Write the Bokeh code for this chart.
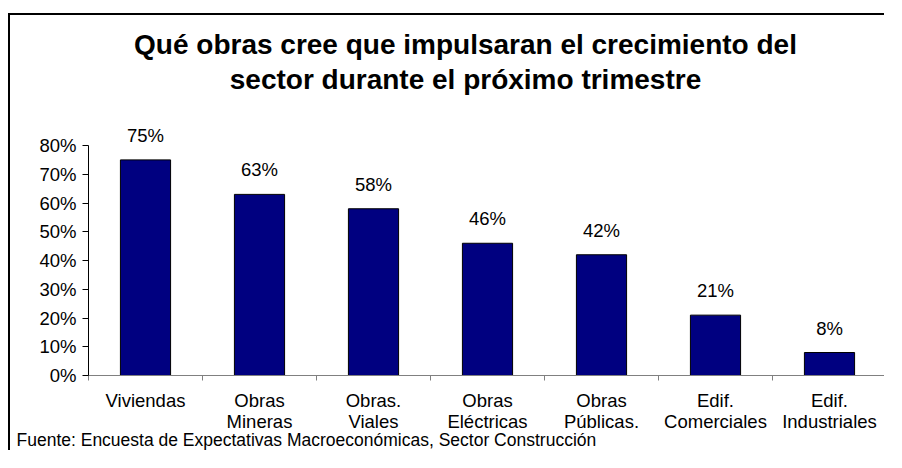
from bokeh.plotting import figure
from bokeh.models import ColumnDataSource, FixedTicker, Range1d, Title, Label, LabelSet, NumeralTickFormatter
from bokeh.core.properties import value
from bokeh.embed import file_html
from bokeh.resources import INLINE

title_lines = ["Qué obras cree que impulsaran el crecimiento del",
               "sector durante el próximo trimestre"]
categories = ["Viviendas", "Obras\nMineras", "Obras.\nViales", "Obras\nEléctricas",
              "Obras\nPúblicas.", "Edif.\nComerciales", "Edif.\nIndustriales"]
values = [0.75, 0.63, 0.58, 0.46, 0.42, 0.21, 0.08]
value_labels = ["75%", "63%", "58%", "46%", "42%", "21%", "8%"]
y_ticks = [0.0, 0.1, 0.2, 0.3, 0.4, 0.5, 0.6, 0.7, 0.8]
footer = "Fuente: Encuesta de Expectativas Macroeconómicas, Sector Construcción"

FONT = "Liberation Sans"
n = len(categories)
centers = [i + 0.5 for i in range(n)]
Y_END = 1.2522  # frame extends up to the top of the chart box (room for the title)

src = ColumnDataSource(dict(x=centers, top=values, lab=value_labels))

p = figure(width=876, height=437, output_backend="svg", toolbar_location=None,
           x_range=Range1d(0, n), y_range=Range1d(0, Y_END),
           min_border_left=78, min_border_right=0, min_border_top=0, min_border_bottom=77,
           styles={"border-left": "2px solid black", "border-top": "2px solid black",
                   "margin-top": "13px", "margin-left": "8px"})
p.outline_line_color = None
p.background_fill_color = "white"
p.border_fill_color = "white"
p.xgrid.visible = False
p.ygrid.visible = False

p.vbar(x="x", top="top", width=0.44, source=src, fill_color="#000080",
       line_color="black", line_width=1)

labels = LabelSet(x="x", y="top", text="lab", source=src, text_align="center",
                  text_baseline="alphabetic", y_offset=18, text_font=value(FONT),
                  text_font_size="18.5px", text_color="black")
p.add_layout(labels)

# y axis
p.yaxis.ticker = FixedTicker(ticks=y_ticks)
p.yaxis.formatter = NumeralTickFormatter(format="0%")
p.yaxis.bounds = (0, 0.8)
p.yaxis.axis_line_color = "black"
p.yaxis.major_tick_out = 6
p.yaxis.major_tick_in = 0
p.yaxis.minor_tick_line_color = None
p.yaxis.major_label_text_font = FONT
p.yaxis.major_label_text_font_size = "18.5px"
p.yaxis.major_label_text_color = "black"
p.yaxis.major_label_standoff = 6

# x axis: labels at category centres, tick marks at category boundaries
p.xaxis.ticker = FixedTicker(ticks=centers, minor_ticks=list(range(n + 1)))
p.xaxis.major_label_overrides = {c: lab for c, lab in zip(centers, categories)}
p.xaxis.axis_line_color = "#808080"
p.xaxis.major_tick_out = 0
p.xaxis.major_tick_in = 0
p.xaxis.minor_tick_out = 5
p.xaxis.minor_tick_in = 0
p.xaxis.minor_tick_line_color = "#808080"
p.xaxis.major_label_text_font = FONT
p.xaxis.major_label_text_font_size = "18.5px"
p.xaxis.major_label_text_color = "black"
p.xaxis.major_label_text_line_height = 1.0
p.xaxis.major_label_standoff = 9

# two-line title inside the (tall) frame, anchored at its top edge
for txt, dy in zip(title_lines, [-29, -64]):
    p.add_layout(Label(x=0, y=Y_END, x_offset=377, y_offset=dy, text=txt,
                       text_align="center", text_baseline="alphabetic",
                       text_font=FONT, text_font_size="28px", text_font_style="bold",
                       text_color="black"))

p.add_layout(Title(text=footer, align="left", offset=-72, standoff=-14,
                   text_font=FONT, text_font_size="17.5px", text_font_style="normal",
                   text_color="black"), "below")

open("out.html", "w").write(file_html(p, INLINE))
